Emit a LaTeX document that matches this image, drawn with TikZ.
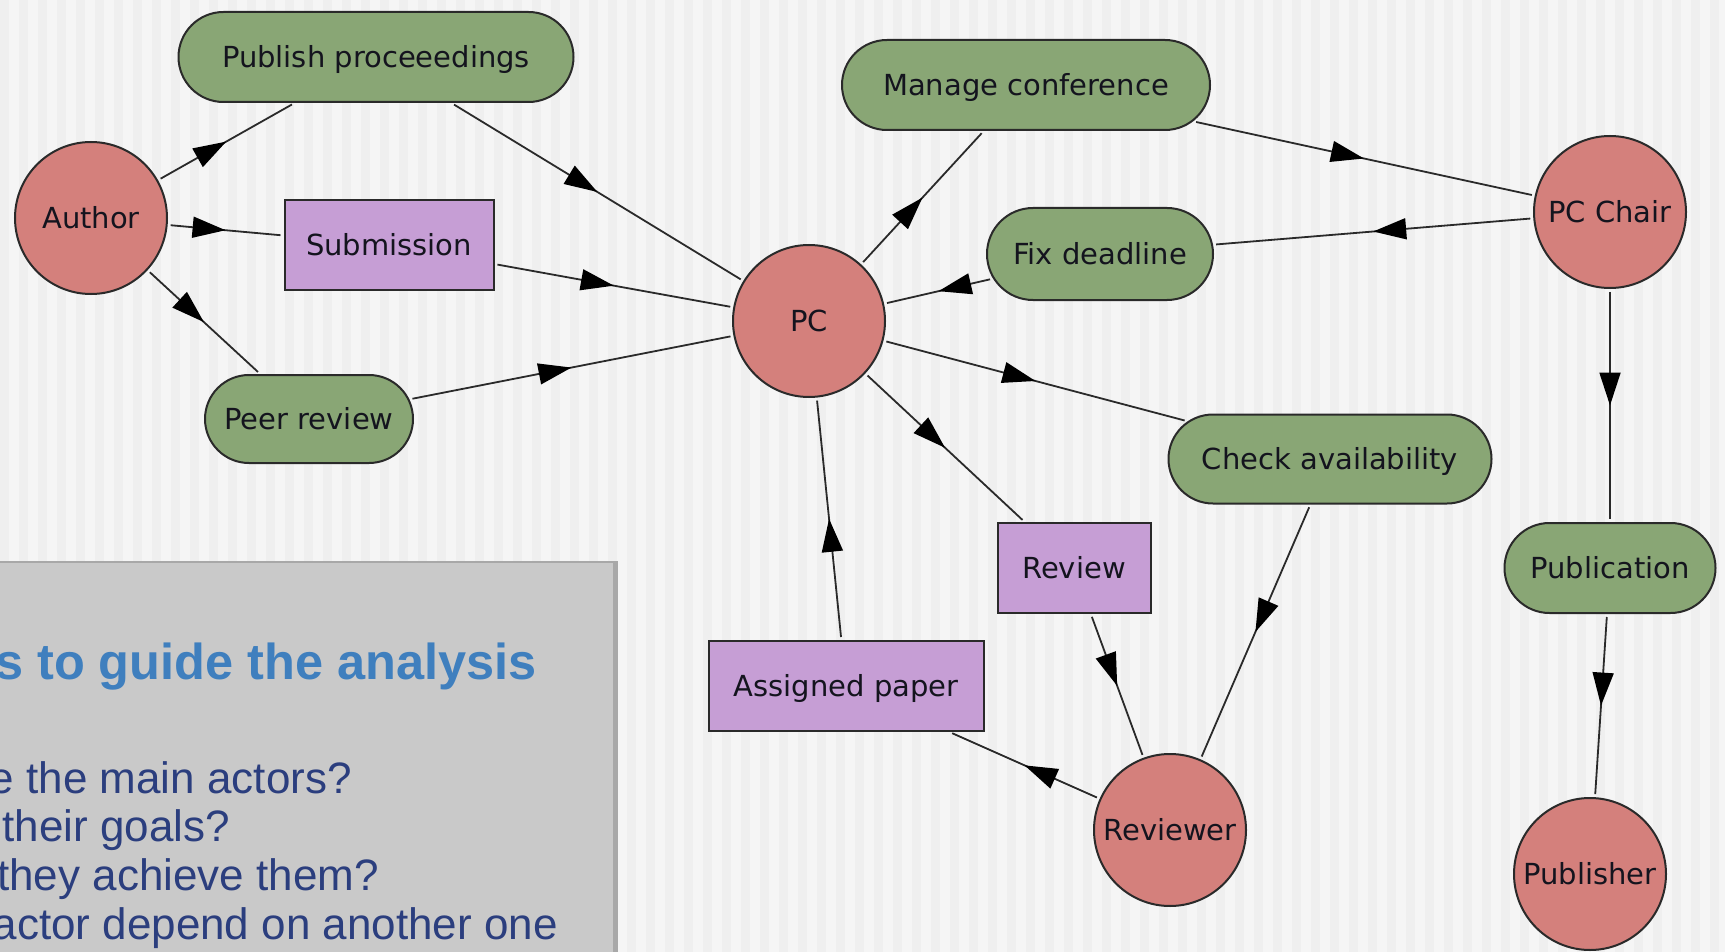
\documentclass[tikz,border=0pt]{standalone}
\usepackage{fontspec}
\setmainfont{DejaVu Sans}
\newfontfamily\slidefont{Liberation Sans}
\usetikzlibrary{arrows.meta,shapes.misc,decorations.markings}

\definecolor{bgc}{HTML}{F5F5F5}
\definecolor{stripec}{HTML}{EFEFEF}
\definecolor{actorc}{HTML}{D4807C}
\definecolor{goalc}{HTML}{89A675}
\definecolor{resc}{HTML}{C69ED5}
\definecolor{edgec}{HTML}{2A2A2A}
\definecolor{txtc}{HTML}{14141E}
\definecolor{boxc}{HTML}{C9C9C9}
\definecolor{shadowc}{HTML}{A8A8A8}
\definecolor{titlec}{HTML}{3F7FBE}
\definecolor{bodyc}{HTML}{2B3E7E}

\tikzset{
  lbl/.style={font=\fontsize{29}{32}\selectfont, text=txtc,
    text height=21pt, text depth=0pt},
  actor/.style={circle, draw=edgec, line width=2pt, fill=actorc,
    minimum size=152pt, inner sep=0pt, lbl},
  goal/.style={rounded rectangle, draw=edgec, line width=2pt, fill=goalc,
    minimum height=90pt, inner sep=0pt, lbl},
  resource/.style={rectangle, draw=edgec, line width=2pt, fill=resc,
    minimum height=90pt, inner sep=0pt, lbl},
  dep/.style={draw=edgec, line width=1.8pt, shorten <=3pt, shorten >=3pt,
    postaction={decorate},
    decoration={markings, mark=at position 0.5 with
      {\arrow[black]{Triangle[length=33pt,width=21pt]}}}},
  slidetitle/.style={font=\slidefont\bfseries\fontsize{50.5}{54}\selectfont,
    text=titlec, anchor=base east, inner sep=0pt},
  slidebody/.style={font=\slidefont\fontsize{44}{48}\selectfont,
    text=bodyc, anchor=base east, inner sep=0pt}
}

\begin{document}
\begin{tikzpicture}[x=1pt, y=-1pt]
  % canvas and pinstripe background
  \clip (0,0) rectangle (1725,952);
  \fill[bgc] (0,0) rectangle (1725,952);
  \foreach \i in {0,...,90}
    \fill[stripec] (\i*19,0) rectangle ++(9,952);

  % grey text panel with a soft shadow on its right edge
  \fill[shadowc] (0,561) rectangle (618,952);
  \fill[boxc] (0,563) rectangle (613,952);
  \node[slidetitle] (qtitle) at (537,679) {s to guide the analysis};
  \node[slidebody] (q1) at (352,793) {e the main actors?};
  \node[slidebody] (q2) at (230,841) {their goals?};
  \node[slidebody] (q3) at (379,890) {they achieve them?};
  \node[slidebody] (q4) at (558,939) {actor depend on another one};

  % actors
  \node[actor] (author)    at (91,218)   {Author};
  \node[actor] (pc)        at (809,321)  {PC};
  \node[actor] (chair)     at (1610,212) {PC Chair};
  \node[actor] (reviewer)  at (1170,830) {Reviewer};
  \node[actor] (publisher) at (1590,874) {Publisher};

  % goals
  \node[goal, minimum width=395pt] (pp)     at (376,57)   {Publish proceeedings};
  \node[goal, minimum width=208pt, minimum height=88pt] (peer) at (309,419) {Peer review};
  \node[goal, minimum width=368pt] (mc)     at (1026,85)  {Manage conference};
  \node[goal, minimum width=226pt, minimum height=92pt] (fd) at (1100,254) {Fix deadline};
  \node[goal, minimum width=323pt, minimum height=89pt] (ca) at (1330,459) {Check availability};
  \node[goal, minimum width=211pt] (pub)    at (1610,568) {Publication};

  % resources
  \node[resource, minimum width=209pt] (sub)    at (389,245)  {Submission};
  \node[resource, minimum width=153pt] (review) at (1074,568) {Review};
  \node[resource, minimum width=275pt] (ap)     at (846,686)  {Assigned paper};

  % dependencies: depender -> dependum -> dependee
  \draw[dep] (author) -- (pp);
  \draw[dep] (pp) -- (pc);
  \draw[dep] (author) -- (sub);
  \draw[dep] (sub) -- (pc);
  \draw[dep] (author) -- (peer);
  \draw[dep] (peer) -- (pc);
  \draw[dep] (pc) -- (mc);
  \draw[dep] (mc) -- (chair);
  \draw[dep] (chair) -- (fd);
  \draw[dep] (fd) -- (pc);
  \draw[dep] (pc) -- (ca);
  \draw[dep] (ca) -- (reviewer);
  \draw[dep] (pc) -- (review);
  \draw[dep] (review) -- (reviewer);
  \draw[dep] (reviewer) -- (ap);
  \draw[dep] (ap) -- (pc);
  \draw[dep] (chair) -- (pub);
  \draw[dep] (pub) -- (publisher);
\end{tikzpicture}
\end{document}
